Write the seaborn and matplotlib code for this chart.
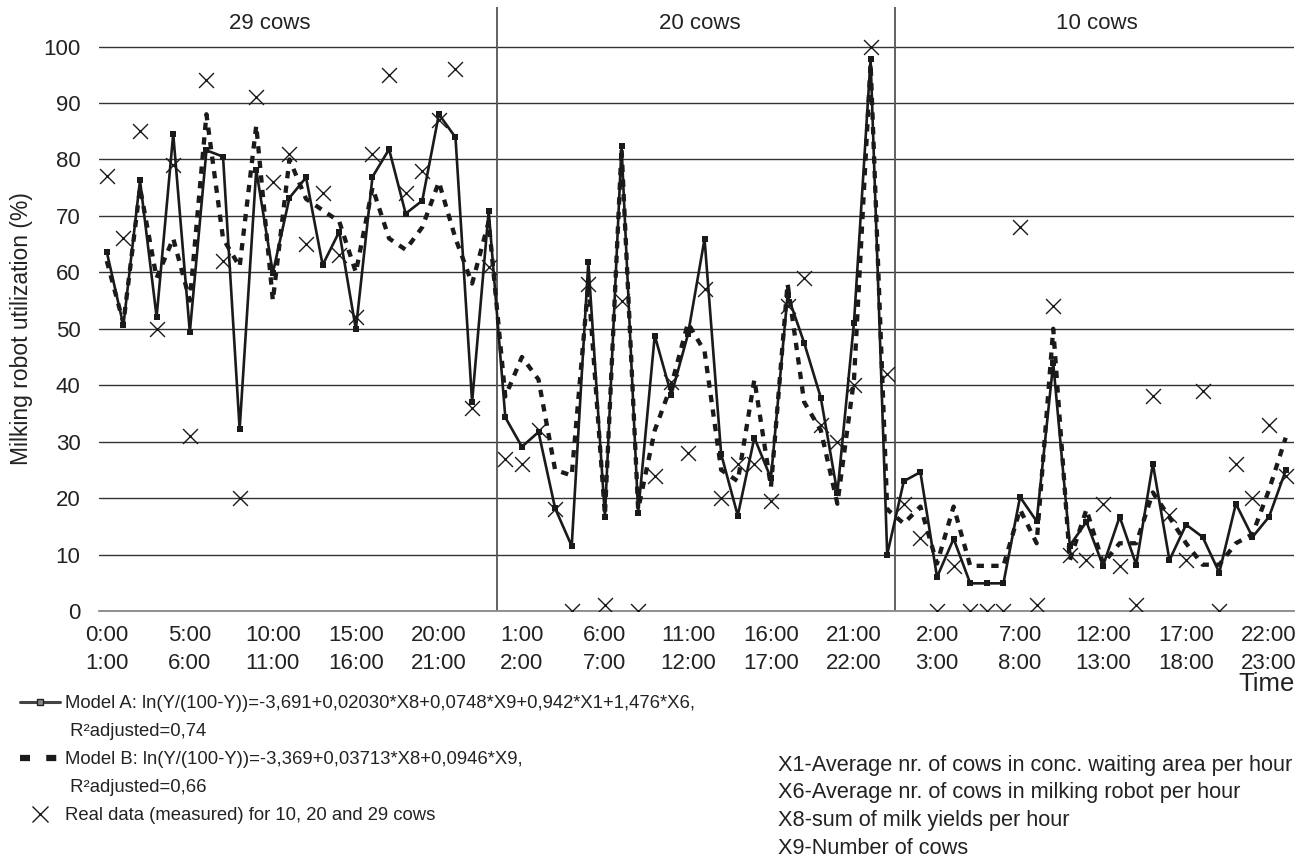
import numpy as np
import pandas as pd
import matplotlib
matplotlib.use("Agg")
import matplotlib.pyplot as plt
from matplotlib.lines import Line2D
import seaborn as sns

# ---------------- data ----------------
groups = ["29 cows", "20 cows", "10 cows"]
hours_per_group = 24

model_a = [63.6, 50.6, 76.3, 52.1, 84.5, 49.4, 81.6, 80.5, 32.2, 78.1, 59.9, 73.2,
           76.8, 61.3, 67.2, 49.9, 76.9, 81.8, 70.4, 72.7, 88.0, 83.9, 37.0, 70.9,
           34.3, 29.1, 31.7, 18.2, 11.5, 61.8, 16.7, 82.4, 17.4, 48.8, 38.3, 49.0,
           65.9, 27.8, 16.9, 30.7, 23.5, 56.0, 47.5, 37.8, 20.9, 51.1, 97.8, 10.0,
           23.0, 24.6, 6.0, 12.8, 4.9, 4.9, 4.9, 20.2, 15.9, 43.9, 11.6, 15.8,
           8.0, 16.7, 8.2, 26.1, 9.0, 15.3, 13.1, 6.8, 19.0, 13.1, 16.7, 24.9]

model_b = [62, 51, 75, 59, 66, 55, 88, 66, 61, 86, 55, 80,
           73, 71, 69, 60, 75, 66, 64, 68, 76, 66, 58, 69,
           38, 45, 41, 25, 24, 58, 17, 82, 18, 32, 40, 51,
           46, 25, 23, 41, 22, 58, 37, 32, 19, 41, 97, 18,
           15.5, 18.5, 8.4, 18.5, 8, 8, 8, 18, 12, 50, 9, 18,
           8.4, 12, 12, 21, 16.6, 12, 8.2, 8.2, 12, 13.6, 21.5, 30.7]

real = [77, 66, 85, 50, 79, 31, 94, 62, 20, 91, 76, 81,
        65, 74, 63, 52, 81, 95, 74, 78, 87, 96, 36, 61,
        27, 26, 32, 18, 0, 58, 1, 55, 0, 24, 40.5, 28,
        57, 20, 26, 26, 19.5, 54, 59, 33, 30, 40, 100, 42,
        19, 13, 0, 8, 0, 0, 0, 68, 1, 54, 10, 9,
        19, 8, 1, 38, 17, 9, 39, 0, 26, 20, 33, 24]

tick_labels = ["0:00\n1:00", "5:00\n6:00", "10:00\n11:00", "15:00\n16:00", "20:00\n21:00",
               "1:00\n2:00", "6:00\n7:00", "11:00\n12:00", "16:00\n17:00", "21:00\n22:00",
               "2:00\n3:00", "7:00\n8:00", "12:00\n13:00", "17:00\n18:00", "22:00\n23:00"]

label_a = "Model A: ln(Y/(100-Y))=-3,691+0,02030*X8+0,0748*X9+0,942*X1+1,476*X6,"
label_a2 = " R²adjusted=0,74"
label_b = "Model B: ln(Y/(100-Y))=-3,369+0,03713*X8+0,0946*X9,"
label_b2 = " R²adjusted=0,66"
label_r = "Real data (measured) for 10, 20 and 29 cows"
notes = ["X1-Average nr. of cows in conc. waiting area per hour",
         "X6-Average nr. of cows in milking robot per hour",
         "X8-sum of milk yields per hour",
         "X9-Number of cows"]

# ---------------- style ----------------
sns.set_style("white")
plt.rcParams["font.family"] = ["Liberation Sans", "DejaVu Sans"]
TXT = "#222222"
INK = "#1a1a1a"
FS = 16

W, H = 1309, 856
fig = plt.figure(figsize=(W / 100, H / 100), dpi=100)
L, R, B, T = 98.5, 1294, 611, 7
ax = fig.add_axes([L / W, 1 - B / H, (R - L) / W, (B - T) / H])

n = len(model_a)
df = pd.DataFrame({"pos": np.arange(n) + 0.5, "A": model_a, "B": model_b, "Real": real})

sns.lineplot(data=df, x="pos", y="B", ax=ax, color=INK, lw=3.1,
             linestyle=(0, (1.7, 1.7)), zorder=3, legend=False)
sns.lineplot(data=df, x="pos", y="A", ax=ax, color=INK, lw=1.9, marker="s",
             markersize=4.5, markeredgewidth=0, zorder=4, legend=False)
sns.scatterplot(data=df, x="pos", y="Real", ax=ax, marker="x", s=115,
                color=INK, linewidth=1.0, zorder=5, legend=False)

ax.set_xlim(0, n)
ax.set_ylim(0, 107)
ax.set_yticks(np.arange(0, 101, 10))
ax.set_xticks(np.arange(0, 71, 5))
ax.set_xticks(np.arange(0, 71, 5) + 0.5, minor=True)
ax.set_xticklabels(tick_labels, minor=True, linespacing=1.45)
ax.tick_params(axis="x", which="major", length=6, width=1, color="#888888",
               direction="out", labelbottom=False)
ax.tick_params(axis="x", which="minor", length=0, pad=10, labelsize=FS, labelcolor=TXT)
ax.tick_params(axis="y", length=0, pad=13, labelsize=FS, labelcolor=TXT)
ax.set_xlabel("")
ax.set_ylabel("")
ax.grid(axis="y", color="#333333", lw=1.0)
ax.grid(axis="x", visible=False)
for s in ["left", "top", "right"]:
    ax.spines[s].set_visible(False)
ax.spines["bottom"].set_color("#888888")
ax.spines["bottom"].set_linewidth(1.3)

# group separators and labels
for k in range(1, len(groups)):
    ax.axvline(k * hours_per_group, color="#555555", lw=1.3, zorder=2)
label_pos = [10.3, 36.2, 60.1]
for g, xp in zip(groups, label_pos):
    ax.text(xp, 104.0, g, ha="center", va="center", fontsize=FS, color=TXT)

# axis titles
fig.text(22 / W, 1 - 329 / H, "Milking robot utilization (%)", rotation=90,
         ha="center", va="center", fontsize=16.5, color=TXT)
fig.text(1295 / W, 1 - 684 / H, "Time", ha="right", va="center", fontsize=18.5, color=TXT)

# legend
LFS = 13.3
hA = Line2D([], [], color="#444444", lw=2.2, marker="s", markersize=4.5,
            markerfacecolor="#888888", markeredgecolor="#222222", markeredgewidth=1)
hB = Line2D([], [], color=INK, lw=4.5, linestyle=(0, (1.6, 2.6)))
hR = Line2D([], [], color=INK, lw=0, marker="x", markersize=11, markeredgewidth=1.0)
blank = Line2D([], [], color="none")
ax.legend([hA, blank, hB, blank, hR], [label_a, label_a2, label_b, label_b2, label_r],
          loc="upper left", bbox_to_anchor=(20 / W, 1 - 695 / H),
          bbox_transform=fig.transFigure, frameon=False, fontsize=LFS,
          handlelength=2.15, handletextpad=0.3, labelspacing=0.6,
          borderpad=0, borderaxespad=0, labelcolor=TXT)

# variable notes
for k, t in enumerate(notes):
    fig.text(778 / W, 1 - (765 + 27.7 * k) / H, t, ha="left", va="center",
             fontsize=15.7, color=TXT)

fig.savefig("out.png", dpi=100)
